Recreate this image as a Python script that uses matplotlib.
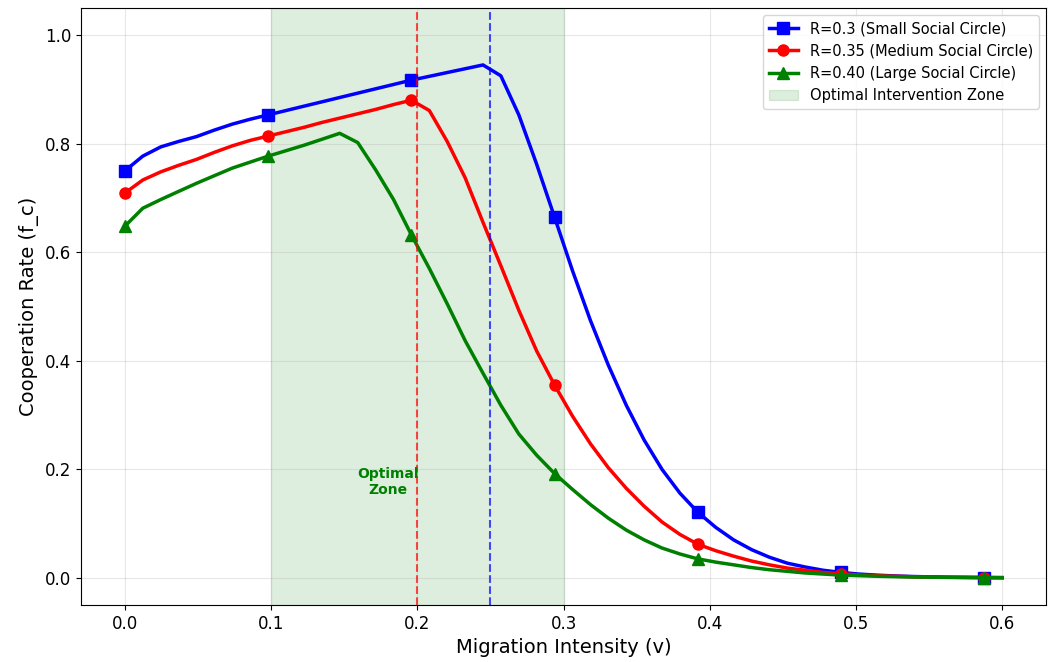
import matplotlib
matplotlib.use('Agg')
import matplotlib.pyplot as plt

# Migration intensity grid (50 samples from 0 to 0.6)
v = [0.0000, 0.0122, 0.0245, 0.0367, 0.0490, 0.0612, 0.0735, 0.0857, 0.0980, 0.1102,
     0.1224, 0.1347, 0.1469, 0.1592, 0.1714, 0.1837, 0.1959, 0.2082, 0.2204, 0.2327,
     0.2449, 0.2571, 0.2694, 0.2816, 0.2939, 0.3061, 0.3184, 0.3306, 0.3429, 0.3551,
     0.3673, 0.3796, 0.3918, 0.4041, 0.4163, 0.4286, 0.4408, 0.4531, 0.4653, 0.4776,
     0.4898, 0.5020, 0.5143, 0.5265, 0.5388, 0.5510, 0.5633, 0.5755, 0.5878, 0.6000]

# Cooperation rate for each social circle size
fc_small = [0.750, 0.777, 0.794, 0.804, 0.813, 0.825, 0.836, 0.845, 0.853, 0.861,
            0.869, 0.877, 0.885, 0.893, 0.901, 0.909, 0.917, 0.924, 0.931, 0.938,
            0.945, 0.925, 0.853, 0.762, 0.664, 0.566, 0.474, 0.392, 0.318, 0.254,
            0.200, 0.156, 0.121, 0.093, 0.070, 0.052, 0.038, 0.027, 0.020, 0.014,
            0.010, 0.007, 0.005, 0.0035, 0.0025, 0.0018, 0.0012, 0.0009, 0.0006, 0.0004]

fc_medium = [0.709, 0.733, 0.748, 0.760, 0.771, 0.784, 0.796, 0.806, 0.814, 0.822,
             0.830, 0.839, 0.847, 0.855, 0.863, 0.872, 0.880, 0.861, 0.804, 0.737,
             0.655, 0.575, 0.493, 0.418, 0.355, 0.298, 0.247, 0.203, 0.165, 0.132,
             0.103, 0.080, 0.062, 0.050, 0.040, 0.031, 0.024, 0.018, 0.014, 0.010,
             0.0075, 0.0055, 0.004, 0.003, 0.002, 0.0015, 0.001, 0.0008, 0.0005, 0.0004]

fc_large = [0.648, 0.681, 0.697, 0.712, 0.727, 0.741, 0.755, 0.766, 0.777, 0.787,
            0.797, 0.808, 0.819, 0.802, 0.752, 0.697, 0.632, 0.570, 0.505, 0.437,
            0.377, 0.318, 0.265, 0.226, 0.192, 0.163, 0.135, 0.110, 0.088, 0.070,
            0.055, 0.044, 0.035, 0.029, 0.024, 0.019, 0.015, 0.012, 0.009, 0.007,
            0.005, 0.004, 0.003, 0.0022, 0.0016, 0.0012, 0.0009, 0.0007, 0.0005, 0.0003]

labels = ['R=0.3 (Small Social Circle)', 'R=0.35 (Medium Social Circle)', 'R=0.40 (Large Social Circle)']
zone = (0.1, 0.3)
optimal_v = [0.2, 0.25]

fig, ax = plt.subplots(figsize=(10.53, 6.62), dpi=100)
fig.subplots_adjust(left=0.077, right=0.9934, top=0.988, bottom=0.0861)

# Optimal zone shading
ax.axvspan(zone[0], zone[1], color='green', alpha=0.13, label='Optimal Intervention Zone')

ax.plot(v, fc_small, color='blue', marker='s', lw=2.5, markersize=8, markevery=8, label=labels[0])
ax.plot(v, fc_medium, color='red', marker='o', lw=2.5, markersize=8, markevery=8, label=labels[1])
ax.plot(v, fc_large, color='green', marker='^', lw=2.5, markersize=8, markevery=8, label=labels[2])

# Optimal migration lines
ax.axvline(optimal_v[0], color='red', linestyle='--', lw=1.5, alpha=0.7)
ax.axvline(optimal_v[1], color='blue', linestyle='--', lw=1.5, alpha=0.7)

ax.text(0.18, 0.177, 'Optimal\nZone', color='green', fontsize=10, fontweight='bold',
        ha='center', va='center')

ax.set_ylim(-0.05, 1.05)
ax.set_xlabel('Migration Intensity (v)', fontsize=14)
ax.set_ylabel('Cooperation Rate (f_c)', fontsize=14)
ax.tick_params(labelsize=12)
ax.grid(True, alpha=0.3)

handles, labs = ax.get_legend_handles_labels()
order = [1, 2, 3, 0]
ax.legend([handles[i] for i in order], [labs[i] for i in order], loc='upper right', fontsize=10.5)

plt.savefig('out.png', dpi=100)
